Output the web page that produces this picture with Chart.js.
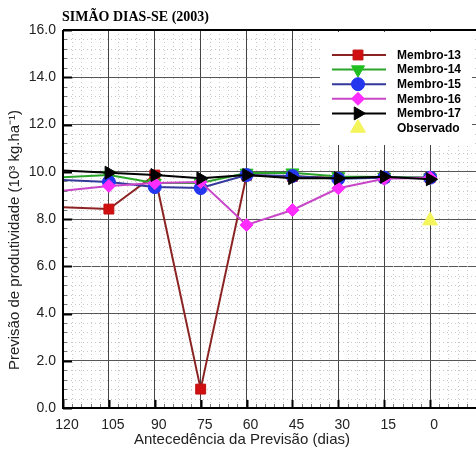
<!DOCTYPE html>
<html>
<head>
<meta charset="utf-8">
<script src="https://cdn.jsdelivr.net/npm/chart.js@4/dist/chart.umd.min.js"></script>
<style>
html,body{margin:0;padding:0;background:#fff;}
#wrap{width:476px;height:456px;position:relative;}
</style>
</head>
<body>
<div id="wrap"><canvas id="c" width="476" height="456"></canvas></div>
<script>
// ---- data ----
const leadDays = [120, 105, 90, 75, 60, 45, 30, 15, 0];
const membro13 = [8.5, 8.42, 9.86, 0.8, 9.85, 9.8, 9.75, 9.75, 9.75];
const membro14 = [9.77, 9.86, 9.52, 9.52, 9.95, 9.96, 9.8, 9.78, 9.75];
const membro15 = [9.65, 9.57, 9.35, 9.31, 9.86, 9.82, 9.7, 9.75, 9.75];
const membro16 = [9.2, 9.4, 9.52, 9.57, 7.75, 8.38, 9.3, 9.7, 9.75];
const membro17 = [10.05, 9.96, 9.86, 9.72, 9.86, 9.73, 9.72, 9.79, 9.68];
const observadoDays = [0];
const observado = [7.93];
const xTicks = [120, 105, 90, 75, 60, 45, 30, 15, 0];
const yTicks = [0, 2, 4, 6, 8, 10, 12, 14, 16];
const titleText = 'SIMÃO DIAS-SE (2003)';
const yTitle = 'Previsão de produtividade (10³ kg.ha⁻¹)';
const xTitle = 'Antecedência da Previsão (dias)';

function pts(xs, ys){ return xs.map((x,i)=>({x:x, y:ys[i]})); }
const firstHidden = (r) => leadDays.map((d,i)=> i===0 ? 0 : r);

const datasets = [
  {label:'Membro-13', data:pts(leadDays, membro13), borderColor:'#8c2323', backgroundColor:'#d01010',
   pointBackgroundColor:'#d01010', pointBorderColor:'#c01010', pointStyle:'rect', pointRadius:firstHidden(7), pointRotation:0, order:5},
  {label:'Membro-14', data:pts(leadDays, membro14), borderColor:'#2aa52a', backgroundColor:'#1fbf1f',
   pointBackgroundColor:'#1fbf1f', pointBorderColor:'#1fbf1f', pointStyle:'triangle', pointRadius:firstHidden(7.5), pointRotation:180, order:4},
  {label:'Membro-15', data:pts(leadDays, membro15), borderColor:'#33399a', backgroundColor:'#2436ee',
   pointBackgroundColor:'#2436ee', pointBorderColor:'#2436ee', pointStyle:'circle', pointRadius:firstHidden(6.5), pointRotation:0, order:3},
  {label:'Membro-16', data:pts(leadDays, membro16), borderColor:'#c846c8', backgroundColor:'#ff2cff',
   pointBackgroundColor:'#ff2cff', pointBorderColor:'#ff2cff', pointStyle:'rectRot', pointRadius:firstHidden(6.5), pointRotation:0, order:2},
  {label:'Membro-17', data:pts(leadDays, membro17), borderColor:'#000000', backgroundColor:'#000000',
   pointBackgroundColor:'#000000', pointBorderColor:'#000000', pointStyle:'triangle', pointRadius:firstHidden(7.5), pointRotation:90, order:1},
  {label:'Observado', data:pts(observadoDays, observado), showLine:false, borderColor:'#f4f45c', backgroundColor:'#f4f45c',
   pointBackgroundColor:'#f4f45c', pointBorderColor:'#f4f45c', pointStyle:'triangle', pointRadius:8.5, pointRotation:0, order:0}
];
datasets.forEach(d=>{ d.borderWidth = 2; d.pointBorderWidth = 1; d.tension = 0; d.fill = false; d.clip = false; d.pointHoverRadius = d.pointRadius; });

const decor = {
  id:'decor',
  beforeDatasetsDraw(chart){
    const ctx = chart.ctx, a = chart.chartArea, xs = chart.scales.x, ys = chart.scales.y;
    ctx.save();
    ctx.strokeStyle = '#c8c8c8'; ctx.lineWidth = 1; ctx.setLineDash([1,3]);
    for (let v = -12; v <= 120; v += 3) {
      if (v % 15 === 0) continue;
      const px = Math.round(xs.getPixelForValue(v)) + 0.5;
      ctx.beginPath(); ctx.moveTo(px, a.top); ctx.lineTo(px, a.bottom); ctx.stroke();
    }
    for (let k = 0; k <= 40; k++) {
      if (k % 5 === 0) continue;
      const py = Math.round(ys.getPixelForValue(k*0.4)) + 0.5;
      ctx.beginPath(); ctx.moveTo(a.left, py); ctx.lineTo(a.right, py); ctx.stroke();
    }
    ctx.setLineDash([]);
    // legend background
    ctx.fillStyle = '#ffffff';
    ctx.fillRect(320, a.top + 2, a.right - 324, 113);
    ctx.restore();
  },
  afterDatasetsDraw(chart){
    const ctx = chart.ctx, a = chart.chartArea, xs = chart.scales.x, ys = chart.scales.y;
    ctx.save();
    // inward ticks
    for (let v = -12; v <= 120; v += 3) {
      const major = v % 15 === 0;
      const px = Math.round(xs.getPixelForValue(v)) + 0.5;
      ctx.strokeStyle = major ? '#000' : '#777';
      ctx.lineWidth = major ? 2 : 1;
      ctx.beginPath(); ctx.moveTo(px, a.bottom); ctx.lineTo(px, a.bottom - (major ? 8 : 4)); ctx.stroke();
    }
    for (let k = 0; k <= 40; k++) {
      const major = k % 5 === 0;
      const py = Math.round(ys.getPixelForValue(k*0.4)) + 0.5;
      ctx.strokeStyle = major ? '#000' : '#777';
      ctx.lineWidth = major ? 2 : 1;
      ctx.beginPath(); ctx.moveTo(a.left, py); ctx.lineTo(a.left + (major ? 9 : 4), py); ctx.stroke();
    }
    // frame
    ctx.strokeStyle = '#000';
    ctx.lineWidth = 2;
    ctx.beginPath(); ctx.moveTo(a.left, a.top); ctx.lineTo(a.left, a.bottom); ctx.lineTo(a.right, a.bottom); ctx.stroke();
    ctx.beginPath(); ctx.moveTo(a.left, a.top); ctx.lineTo(a.right, a.top); ctx.stroke();
    // legend items
    const rowY0 = 55, rowH = 14.6;
    chart.data.datasets.forEach((ds, i) => {
      const y = rowY0 + i*rowH;
      if (ds.showLine !== false) {
        ctx.strokeStyle = ds.borderColor; ctx.lineWidth = 2;
        ctx.beginPath(); ctx.moveTo(332, y); ctx.lineTo(386, y); ctx.stroke();
      }
      ctx.fillStyle = ds.pointBackgroundColor; ctx.strokeStyle = ds.pointBorderColor; ctx.lineWidth = 1;
      const r = Array.isArray(ds.pointRadius) ? ds.pointRadius[ds.pointRadius.length-1] : ds.pointRadius;
      Chart.helpers.drawPoint(ctx, {pointStyle: ds.pointStyle, rotation: ds.pointRotation, radius: r, borderWidth: 1}, 358, y);
      ctx.fillStyle = '#000'; ctx.font = 'bold 12px "Liberation Sans", Arial, sans-serif';
      ctx.textAlign = 'left'; ctx.textBaseline = 'middle';
      ctx.fillText(ds.label, 397, y + 0.5);
    });
    // chart title
    ctx.fillStyle = '#000'; ctx.font = 'bold 14px "Liberation Serif", "Times New Roman", serif';
    ctx.textAlign = 'left'; ctx.textBaseline = 'alphabetic';
    ctx.fillText(titleText, 62, 21);
    // x title
    ctx.font = '15px "Liberation Sans", Arial, sans-serif'; ctx.fillStyle = '#222';
    ctx.textAlign = 'center'; ctx.textBaseline = 'middle';
    ctx.fillText(xTitle, 242, 440);
    // y title
    ctx.save();
    ctx.translate(15, 240); ctx.rotate(-Math.PI/2);
    ctx.font = '15px "Liberation Sans", Arial, sans-serif'; ctx.fillStyle = '#222';
    ctx.textAlign = 'center'; ctx.textBaseline = 'middle';
    ctx.fillText(yTitle, 0, 0);
    ctx.restore();
    ctx.restore();
  }
};

new Chart(document.getElementById('c'), {
  type: 'line',
  data: { datasets: datasets },
  options: {
    responsive: false,
    animation: false,
    events: [],
    layout: { autoPadding: false, padding: { top: 30, right: 0, left: 0, bottom: 0 } },
    plugins: { legend: { display: false }, tooltip: { enabled: false }, title: { display: false } },
    scales: {
      x: {
        type: 'linear', reverse: true, min: -15, max: 120,
        afterFit: (s) => { s.height = 48; s.paddingRight = 0; s.paddingLeft = 0; },
        afterBuildTicks: (s) => { s.ticks = xTicks.map(v => ({value: v})); },
        ticks: { autoSkip: false, maxRotation: 0, padding: 9, labelOffset: 4, color: '#222',
          font: { size: 14, family: '"Liberation Sans", Arial, sans-serif' },
          callback: (v) => String(v) },
        grid: { color: '#444', lineWidth: 1, drawTicks: false },
        border: { display: false }
      },
      y: {
        type: 'linear', min: 0, max: 16,
        afterFit: (s) => { s.width = 63; s.paddingTop = 0; s.paddingBottom = 0; },
        afterBuildTicks: (s) => { s.ticks = yTicks.map(v => ({value: v})); },
        ticks: { autoSkip: false, padding: 7, color: '#222',
          font: { size: 14, family: '"Liberation Sans", Arial, sans-serif' },
          callback: (v) => Number(v).toFixed(1) },
        grid: { color: '#555', lineWidth: 1, drawTicks: false },
        border: { display: false }
      }
    }
  },
  plugins: [decor]
});
</script>
</body>
</html>
